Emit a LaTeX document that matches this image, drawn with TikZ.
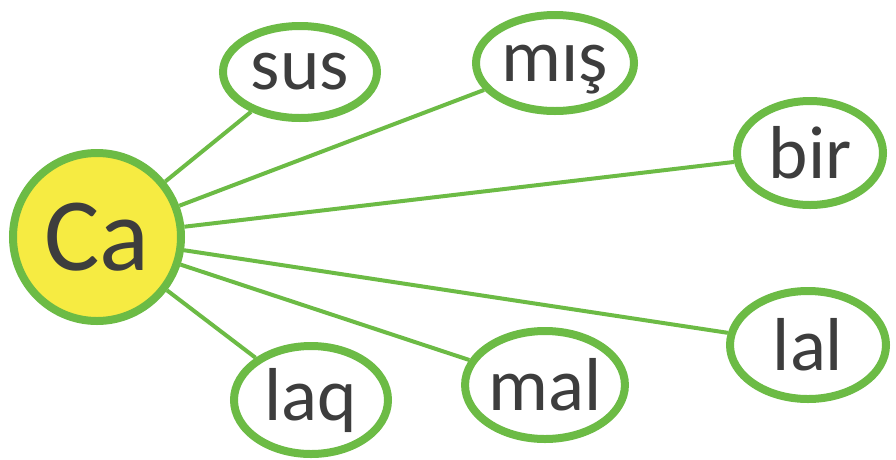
\documentclass[tikz,border=0pt]{standalone}
\usepackage{fontspec}
\setmainfont{Carlito}
\usepackage{tikz}
\usetikzlibrary{shapes.geometric}
\definecolor{WordGreen}{HTML}{6CBB45}
\definecolor{WordYellow}{HTML}{F6EB42}
\definecolor{WordInk}{HTML}{3D3D3D}
\tikzset{
  syllable/.style={circle, draw=WordGreen, line width=8pt, fill=WordYellow,
    text=WordInk, inner sep=0pt, minimum size=168pt,
    font=\fontsize{104}{104}\selectfont},
  word/.style={ellipse, draw=WordGreen, line width=8pt, fill=white,
    text=WordInk, inner sep=0pt, font=\fontsize{75}{75}\selectfont},
  spoke/.style={draw=WordGreen, line width=4pt}
}
\begin{document}
\begin{tikzpicture}[x=1pt, y=-1pt]
  \useasboundingbox (0,0) rectangle (896,459);
  \node[syllable] (ca) at (97,237) {Ca};
  \node[word, minimum width=154pt, minimum height=92pt] (sus) at (300,72) {sus};
  \node[word, minimum width=158pt, minimum height=96pt, text depth=0pt] (mis) at (555,63) {mış};
  \node[word, minimum width=146pt, minimum height=104pt] (bir) at (810,153) {bir};
  \node[word, minimum width=156pt, minimum height=108pt] (lal) at (808,345) {lal};
  \node[word, minimum width=156pt, minimum height=108pt] (mal) at (545,385) {mal};
  \node[word, minimum width=154pt, minimum height=108pt] (laq) at (311,400) {laq};
  % spokes from the syllable to every word
  \foreach \w in {sus,mis,bir,lal,mal,laq}
    \draw[spoke] (ca) -- (\w);
\end{tikzpicture}
\end{document}
